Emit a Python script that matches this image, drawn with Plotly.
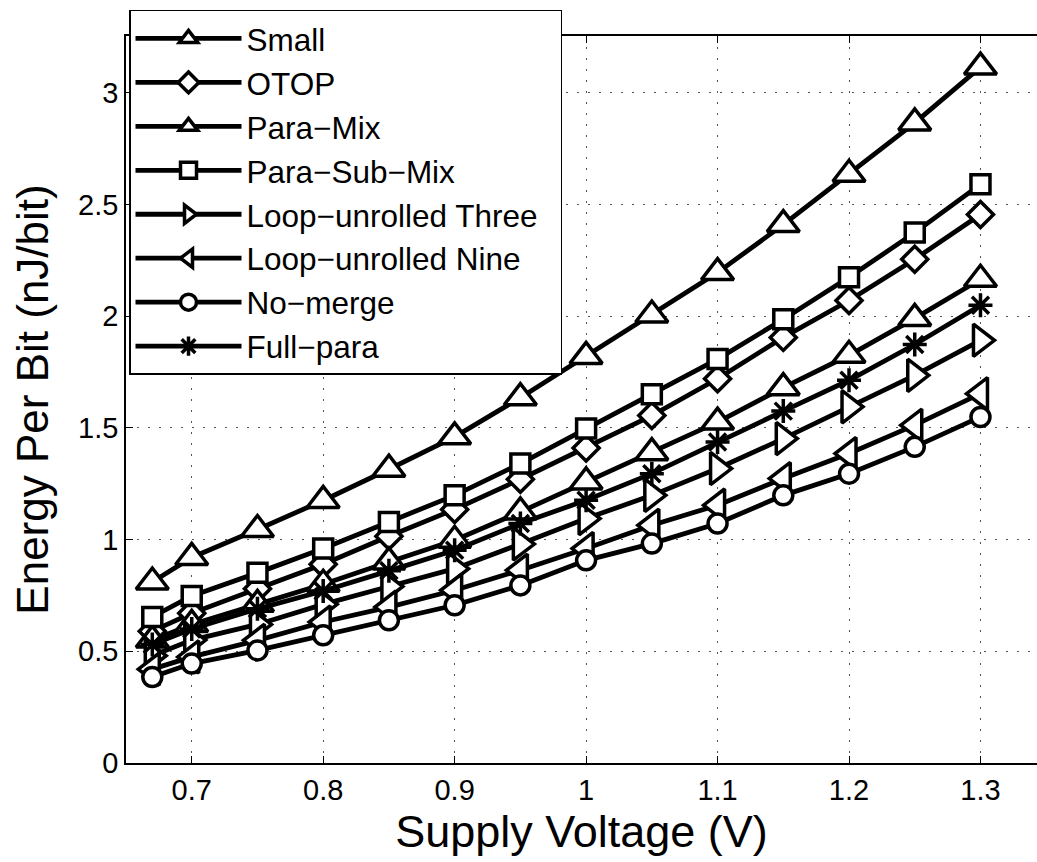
import plotly.graph_objects as go

# ---- data ----
voltage = [0.67, 0.7, 0.75, 0.8, 0.85, 0.9, 0.95, 1.0, 1.05, 1.1, 1.15, 1.2, 1.25, 1.3]

small = [0.81, 0.92, 1.045, 1.175, 1.315, 1.46, 1.635, 1.82, 2.005, 2.195, 2.41, 2.635, 2.865, 3.115]
otop = [0.59, 0.67, 0.78, 0.89, 1.015, 1.135, 1.27, 1.41, 1.555, 1.72, 1.905, 2.07, 2.255, 2.455]
para_mix = [0.55, 0.62, 0.71, 0.80, 0.90, 0.997, 1.124, 1.258, 1.389, 1.526, 1.68, 1.825, 1.99, 2.165]
para_sub_mix = [0.654, 0.748, 0.851, 0.960, 1.079, 1.198, 1.340, 1.497, 1.650, 1.808, 1.986, 2.174, 2.374, 2.590]
loop_three = [0.48, 0.55, 0.62, 0.71, 0.79, 0.87, 0.98, 1.094, 1.198, 1.318, 1.452, 1.594, 1.735, 1.892]
loop_nine = [0.42, 0.475, 0.549, 0.631, 0.698, 0.773, 0.863, 0.96, 1.064, 1.154, 1.273, 1.385, 1.512, 1.653]
no_merge = [0.385, 0.445, 0.504, 0.572, 0.639, 0.706, 0.795, 0.907, 0.982, 1.072, 1.198, 1.295, 1.415, 1.549]
full_para = [0.53, 0.60, 0.69, 0.77, 0.86, 0.952, 1.072, 1.176, 1.295, 1.437, 1.575, 1.713, 1.873, 2.049]

names = ["Small", "OTOP", "Para\u2212Mix", "Para\u2212Sub\u2212Mix",
         "Loop\u2212unrolled Three\u00a0\u00a0", "Loop\u2212unrolled Nine", "No\u2212merge", "Full\u2212para"]
series = [small, otop, para_mix, para_sub_mix, loop_three, loop_nine, no_merge, full_para]
symbols = ["triangle-up", "diamond", "triangle-up", "square",
           "triangle-right", "triangle-left", "circle", "asterisk-open"]
sizes = [28, 20, 28, 19, 28, 28, 19, 20]

x_ticks = [0.7, 0.8, 0.9, 1.0, 1.1, 1.2, 1.3]
x_ticklabels = ["0.7", "0.8", "0.9", "1", "1.1", "1.2", "1.3"]
y_ticks = [0, 0.5, 1, 1.5, 2, 2.5, 3]
y_ticklabels = ["0", "0.5", "1", "1.5", "2", "2.5", "3"]

FONT = "Liberation Sans, Arial, Helvetica, sans-serif"

fig = go.Figure()
for i, (nm, ys, sym, sz) in enumerate(zip(names, series, symbols, sizes)):
    is_open = sym.endswith("-open")
    fig.add_trace(go.Scatter(
        x=voltage, y=ys, name=nm, mode="lines+markers",
        legendgroup=f"g{i}",
        line=dict(color="black", width=4.8),
        marker=dict(symbol=sym, size=sz,
                    color="black" if is_open else "white",
                    line=dict(color="black", width=3.5)),
    ))

fig.update_layout(
    width=1037, height=862,
    paper_bgcolor="white", plot_bgcolor="white",
    margin=dict(l=126, r=0, t=36, b=99),
    font=dict(family=FONT, color="black", size=29),
    showlegend=True,
    legend=dict(
        x=0.0033, y=1.0358, xanchor="left", yanchor="top",
        bgcolor="white", bordercolor="black", borderwidth=1.5,
        font=dict(family=FONT, size=31.5, color="black"),
        itemwidth=106, tracegroupgap=0,
        itemsizing="trace",
    ),
    xaxis=dict(
        range=[0.65, 1.343],
        tickmode="array", tickvals=x_ticks, ticktext=x_ticklabels,
        ticks="inside", ticklen=7, tickwidth=1, tickcolor="black",
        showline=True, linecolor="black", linewidth=1.5, mirror="ticks",
        showgrid=True, gridcolor="#555555", gridwidth=1, griddash="2px,9px",
        zeroline=False,
        tickfont=dict(size=29),
        title=dict(text="Supply Voltage (V)", font=dict(size=45), standoff=1),
    ),
    yaxis=dict(
        range=[0, 3.254],
        tickmode="array", tickvals=y_ticks, ticktext=y_ticklabels,
        ticks="inside", ticklen=7, tickwidth=1, tickcolor="black",
        showline=True, linecolor="black", linewidth=1.5, mirror=False,
        showgrid=True, gridcolor="#555555", gridwidth=1, griddash="2px,9px",
        zeroline=False,
        tickfont=dict(size=29),
        title=dict(text="Energy Per Bit (nJ/bit)", font=dict(size=44), standoff=16),
    ),
)

fig.write_html("out.html", config={"displayModeBar": False},
               post_script="document.body.style.margin='0px';")
